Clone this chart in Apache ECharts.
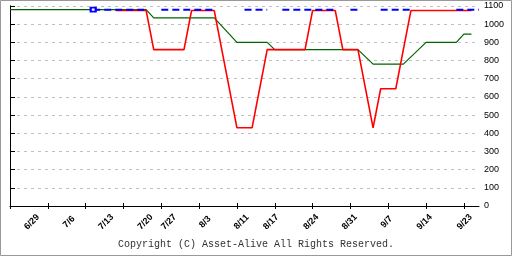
<!DOCTYPE html>
<html><head><meta charset="utf-8">
<script src="https://cdn.jsdelivr.net/npm/echarts@6/dist/echarts.min.js"></script>
<style>html,body{margin:0;padding:0;background:#fff}#c{width:512px;height:256px}</style>
</head><body><div id="c"></div>
<script>
const categories = [
 '6/29','6/30','7/1','7/2','7/3',
 '7/6','7/7','7/8','7/9','7/10',
 '7/13','7/14','7/15','7/16','7/17',
 '7/20','7/21','7/22','7/23','7/24',
 '7/27','7/28','7/29','7/30','7/31',
 '8/3','8/4','8/5','8/6','8/7',
 '8/11','8/12','8/13','8/14','8/15',
 '8/17','8/18','8/19','8/20','8/21',
 '8/24','8/25','8/26','8/27','8/28',
 '8/31','9/1','9/2','9/3','9/4',
 '9/7','9/8','9/9','9/10','9/11',
 '9/14','9/15','9/16','9/17','9/18',
 '9/23','9/24','9/25'
];
const tickLabels = ['6/29','7/6','7/13','7/20','7/27','8/3','8/11','8/17','8/24','8/31','9/7','9/14','9/23'];
// where each tick label sits along the category index scale (as drawn in the source chart)
const tickLabelSlots = [2.9,7.8,12.7,17.9,21.0,25.8,30.6,34.5,39.8,44.9,49.8,54.8,60.1];
const yTicks = [0,100,200,300,400,500,600,700,800,900,1000,1100];
const _ = null;
const redValues = [
 _,_,_,_,_, _,_,_,_,_, _,_,_,_,1075,
 1075,1075,1075,1075,860, 860,860,860,860,1075,
 1075,1075,1075,_,_, 430,430,430,_,860,
 860,860,860,860,860, 1075,1075,1075,1075,860,
 860,860,_,430,645, 645,645,860,1075,1075,
 1075,1075,1075,1075,1075, 1075,1075,_
];
const greenValues = [
 1080,1080,1080,1080,1080, 1080,1080,1080,1080,1080,
 1080,1080,_,_,_, _,_,_,1080,1035,
 1035,1035,1035,1035,1035, 1035,1035,1035,_,_,
 900,900,900,_,900, 860,860,860,860,860,
 860,860,860,860,860, 860,860,_,780,780,
 780,780,780,820,860, 900,900,900,900,900,
 945,945,_
];
const blueValues = [
 _,_,_,_,_, _,_,_,_,_,
 _,1080,1080,1080,1080, 1080,1080,1080,1080,_,
 1080,1080,1080,1080,1080, 1080,1080,1080,_,_,
 _,1080,1080,1080,1080, _,1080,1080,1080,1080,
 1080,1080,1080,1080,_, 1080,1080,_,_,1080,
 1080,1080,1080,1080,_, _,_,_,_,1080,
 1080,1080,1080
];
const blueMarkerIndex = 11;

const chart = echarts.init(document.getElementById('c'), null, {renderer:'canvas'});
const blueData = blueValues.map((v,i)=> i===blueMarkerIndex ? {value:v, symbolSize:[5,4]} : v);
const lastIdx = categories.length - 1;
chart.setOption({
  animation:false,
  backgroundColor:'#fff',
  grid: {left:10, right:33, top:6, bottom:50},
  xAxis:[{
    type:'category', data:categories, boundaryGap:false, position:'bottom',
    axisLine:{show:true, lineStyle:{color:'#000', width:1}},
    axisTick:{show:true, interval:4, length:3, lineStyle:{color:'#000'}},
    axisLabel:{show:false},
    splitLine:{show:false}
  },{
    type:'category', data:categories, boundaryGap:false, position:'bottom',
    axisLine:{show:false},
    axisTick:{show:true, inside:true, interval:4, length:3, lineStyle:{color:'#000'}},
    axisLabel:{show:false}, splitLine:{show:false}
  },{
    type:'value', min:0, max:lastIdx, position:'bottom',
    axisLine:{show:false}, axisTick:{show:false}, splitLine:{show:false},
    axisLabel:{show:true, customValues:tickLabelSlots, rotate:45, align:'center', verticalAlign:'middle', margin:16,
      fontFamily:'Liberation Sans', fontSize:9, fontWeight:'bold', color:'#000',
      formatter:(v)=>{ const k = tickLabelSlots.indexOf(v); return k>=0 ? tickLabels[k] : ''; }}
  }],
  yAxis:[{
    type:'value', position:'right', min:0, max:1100, interval:100,
    axisLine:{show:true, lineStyle:{color:'#000'}},
    axisTick:{show:true, length:5, lineStyle:{color:'#000'}},
    axisLabel:{show:true, margin:5, fontFamily:'Liberation Sans', fontSize:9, color:'#000',
      formatter:(v)=> yTicks.includes(v) ? String(v) : ''},
    splitLine:{show:true, lineStyle:{color:'#c0c0c0', type:[3,4], width:1}}
  },{
    type:'value', position:'left', min:0, max:1100, interval:100,
    axisLine:{show:true, lineStyle:{color:'#000', width:1}},
    axisTick:{show:false}, axisLabel:{show:false}, splitLine:{show:false}
  }],
  graphic:[
    {type:'rect', shape:{x:0.5, y:0.5, width:511, height:255}, style:{fill:'none', stroke:'#999', lineWidth:1}, z:100},
    {type:'text', left:'center', top:239, style:{text:'Copyright (C) Asset-Alive All Rights Reserved.', fontFamily:'Liberation Mono', fontSize:10, fill:'#333'}}
  ],
  series:[
    {name:'green', type:'line', data:greenValues, connectNulls:true, symbol:'none',
      lineStyle:{color:'#006400', width:1.2}, z:2},
    {name:'red', type:'line', data:redValues, connectNulls:true, symbol:'none',
      lineStyle:{color:'#ff0000', width:1.6}, z:3},
    {name:'blue', type:'line', data:blueData, connectNulls:false, symbol:'emptyRect', symbolSize:0, showSymbol:true,
      itemStyle:{color:'#0000ff', borderColor:'#0000ff', borderWidth:1},
      lineStyle:{color:'#0000ff', width:2, type:[7,4]}, z:4}
  ]
});
</script></body></html>
